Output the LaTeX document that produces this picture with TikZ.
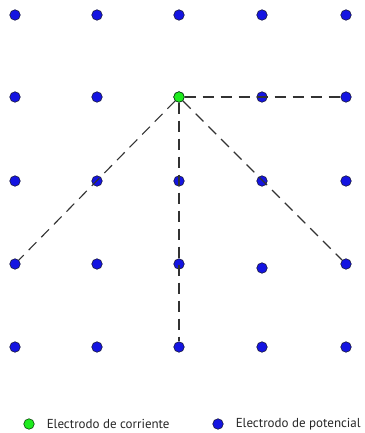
\documentclass[tikz,border=0pt]{standalone}
\usepackage{fontspec}
\setmainfont{PT Sans}
\usetikzlibrary{positioning}
\definecolor{colPot}{RGB}{20,20,225}
\definecolor{colCur}{RGB}{30,235,30}
\definecolor{colEdge}{RGB}{25,25,60}
\definecolor{colLine}{RGB}{50,50,50}
\tikzset{
  dot/.style={
    circle, draw=colEdge, line width=0.6pt,
    inner sep=0pt, minimum size=10.5pt
  },
  potDot/.style={
    dot, fill=colPot
  },
  curDot/.style={
    dot, fill=colCur, draw=black!70!colCur
  },
  link/.style={
    line width=1.1pt, color=colLine,
    dash pattern=on 11pt off 7pt
  },
  legText/.style={
    font=\fontsize{13}{15}\selectfont, text=black!85, inner sep=0pt
  }
}

\begin{document}
\begin{tikzpicture}[x=1pt,y=-1pt]
  \useasboundingbox (0,0) rectangle (364,433);

  % grid of potential electrodes
  \foreach \c/\x in {1/15,2/97,3/179,4/262,5/346}{
    \foreach \r/\y in {1/15,2/97,3/181,4/264,5/347}{
      \ifnum\c\r=44 \else
        \node[potDot] (e\c\r) at (\x,\y) {};
      \fi
    }
  }
  % one electrode sits a bit lower
  \node[potDot] (e44) at (262,268) {};

  % current electrode
  \node[curDot] (cur) at (179,97) {};

  % measuring lines
  \draw[link] (cur) -- (e52);
  \draw[link] (cur) -- (e14);
  \draw[link] (cur) -- (e35);
  \draw[link] (cur) -- (e54);

  % legend
  \node[curDot] (legCur) at (29,424) {};
  \node[legText, right=12pt of legCur] (legCurText) {Electrodo de corriente};
  \node[potDot] (legPot) at (218,424) {};
  \node[legText, right=12pt of legPot] (legPotText) {Electrodo de potencial};
\end{tikzpicture}
\end{document}
